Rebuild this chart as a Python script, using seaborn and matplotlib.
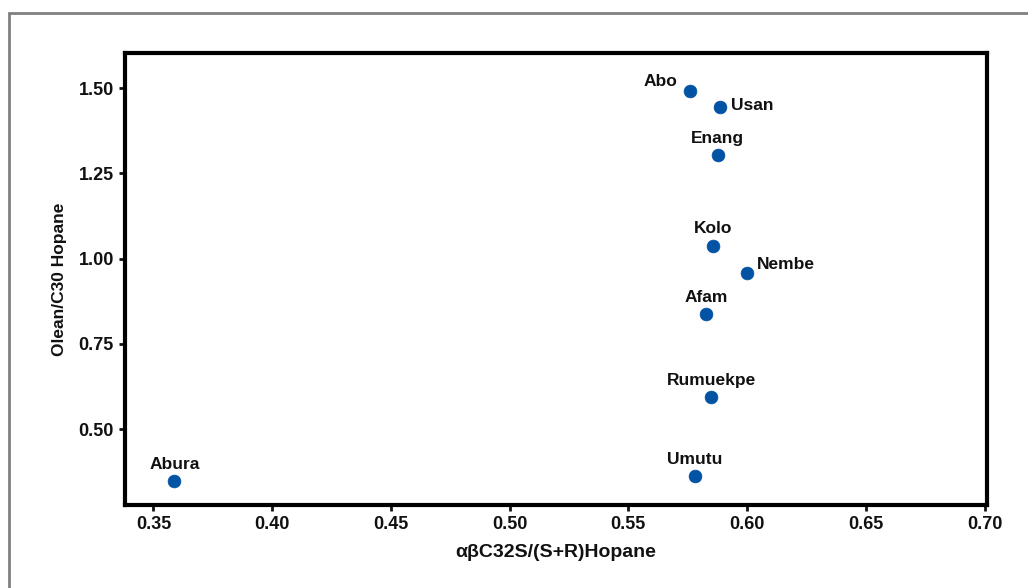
import seaborn as sns
import matplotlib.pyplot as plt
import pandas as pd

# oil samples, biomarker ratios
names = ['Abo', 'Usan', 'Enang', 'Kolo', 'Nembe', 'Afam', 'Rumuekpe', 'Umutu', 'Abura']
hopane_ratio = [0.576, 0.5885, 0.5877, 0.5856, 0.600, 0.5826, 0.585, 0.578, 0.3588]
olean_ratio = [1.491, 1.444, 1.304, 1.038, 0.959, 0.836, 0.594, 0.362, 0.347]

df = pd.DataFrame({'name': names, 'x': hopane_ratio, 'y': olean_ratio})

sns.set_style('white')
plt.rcParams['font.family'] = ['Liberation Sans', 'DejaVu Sans']
plt.rcParams['font.weight'] = 'bold'

fig = plt.figure(figsize=(10.28, 5.88), dpi=100)
ax = fig.add_axes([0.1216, 0.141, 0.8384, 0.769])

sns.scatterplot(data=df, x='x', y='y', ax=ax, color='#0353a4', s=85,
                edgecolor='#0353a4', linewidth=0.5, zorder=3)

# label offsets in points (dx, dy, ha)
offsets = {
    'Abo': (-9, 7, 'right'), 'Usan': (8, 1, 'left'), 'Enang': (0, 12, 'center'),
    'Kolo': (0, 12, 'center'), 'Nembe': (7, 6, 'left'), 'Afam': (0, 12, 'center'),
    'Rumuekpe': (0, 12, 'center'), 'Umutu': (0, 12, 'center'), 'Abura': (0, 12, 'center'),
}
for n, xv, yv in zip(names, hopane_ratio, olean_ratio):
    dx, dy, ha = offsets[n]
    ax.annotate(n, (xv, yv), xytext=(dx, dy), textcoords='offset points',
                ha=ha, va='center', fontsize=12.5, fontweight='bold', color='#111111')

ax.set_xlim(0.338, 0.701)
ax.set_ylim(0.277, 1.603)
ax.set_xticks([0.35, 0.40, 0.45, 0.50, 0.55, 0.60, 0.65, 0.70])
ax.set_yticks([0.50, 0.75, 1.00, 1.25, 1.50])
ax.xaxis.set_major_formatter(plt.FormatStrFormatter('%.2f'))
ax.yaxis.set_major_formatter(plt.FormatStrFormatter('%.2f'))
ax.tick_params(axis='both', direction='out', length=4, width=2, labelsize=13,
               bottom=True, left=True, pad=4, colors='#111111')
for lab in ax.get_xticklabels() + ax.get_yticklabels():
    lab.set_fontweight('bold')
for sp in ax.spines.values():
    sp.set_linewidth(3)
    sp.set_color('black')

ax.set_xlabel('αβC32S/(S+R)Hopane', fontsize=14, fontweight='bold', labelpad=8, color='#111111')
ax.set_ylabel('Olean/C30 Hopane', fontsize=12.5, fontweight='bold', labelpad=8, color='#111111')

# gray outer frame
fig.add_artist(plt.Rectangle((0.009, -0.1), 1.2, 1.078, transform=fig.transFigure,
                             fill=False, edgecolor='#808080', linewidth=2))

fig.savefig('out.png', dpi=100)
